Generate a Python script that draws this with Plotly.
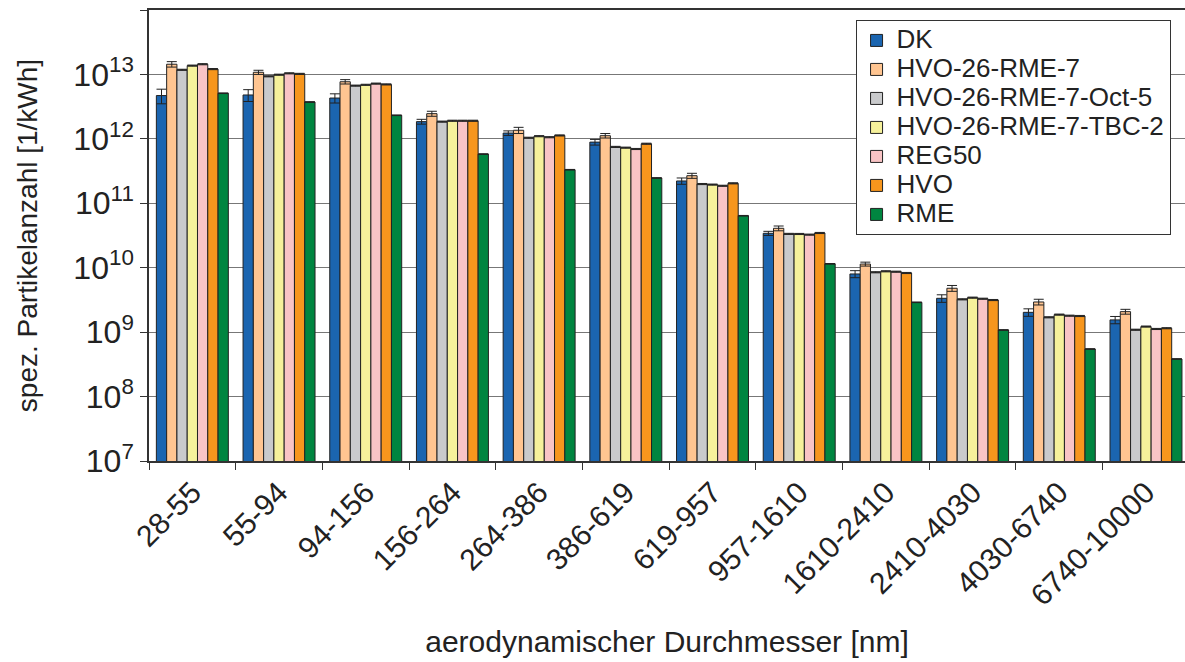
import plotly.graph_objs as go

categories = ['28-55', '55-94', '94-156', '156-264', '264-386', '386-619',
              '619-957', '957-1610', '1610-2410', '2410-4030', '4030-6740', '6740-10000']

series_names = ['DK', 'HVO-26-RME-7', 'HVO-26-RME-7-Oct-5', 'HVO-26-RME-7-TBC-2',
                'REG50', 'HVO', 'RME']

dk = [4.7e12, 4.8e12, 4.3e12, 1.85e12, 1.23e12, 8.9e11, 2.22e11, 3.42e10, 8.0e9, 3.35e9, 2.03e9, 1.55e9]
dk_err = [1.2e12, 1.0e12, 0.7e12, 0.16e12, 0.1e12, 0.09e12, 0.25e11, 0.25e10, 1.0e9, 0.45e9, 0.27e9, 0.2e9]

hvo26 = [1.44e13, 1.08e13, 7.7e12, 2.46e12, 1.36e12, 1.12e12, 2.68e11, 4.09e10, 1.14e10, 4.8e9, 2.94e9, 2.08e9]
hvo26_err = [0.14e13, 0.08e13, 0.6e12, 0.22e12, 0.15e12, 0.09e12, 0.24e11, 0.35e10, 0.08e10, 0.5e9, 0.3e9, 0.18e9]

oct5 = [1.18e13, 9.35e12, 6.7e12, 1.85e12, 1.04e12, 7.5e11, 1.99e11, 3.35e10, 8.5e9, 3.23e9, 1.7e9, 1.09e9]
tbc2 = [1.37e13, 9.9e12, 6.9e12, 1.91e12, 1.10e12, 7.3e11, 1.95e11, 3.34e10, 8.8e9, 3.43e9, 1.87e9, 1.22e9]
reg50 = [1.44e13, 1.04e13, 7.2e12, 1.91e12, 1.06e12, 6.96e11, 1.87e11, 3.26e10, 8.67e9, 3.3e9, 1.8e9, 1.12e9]
hvo = [1.21e13, 1.02e13, 7.0e12, 1.91e12, 1.13e12, 8.4e11, 2.04e11, 3.46e10, 8.28e9, 3.15e9, 1.78e9, 1.15e9]
rme = [5.1e12, 3.73e12, 2.32e12, 5.8e11, 3.32e11, 2.47e11, 6.41e10, 1.15e10, 2.9e9, 1.08e9, 5.47e8, 3.83e8]

colors = ['#1b65b0', '#ffc591', '#c9cacc', '#f6f19b', '#f9c4c5', '#f7961d', '#008540']

values = [dk, hvo26, oct5, tbc2, reg50, hvo, rme]
errors = [dk_err, hvo26_err,
          [v * 0.02 for v in oct5], [v * 0.02 for v in tbc2], [v * 0.02 for v in reg50],
          [v * 0.02 for v in hvo], [v * 0.01 for v in rme]]

font = 'Liberation Sans, Arial, sans-serif'

fig = go.Figure()
for name, vals, err, col in zip(series_names, values, errors, colors):
    fig.add_trace(go.Bar(
        x=categories, y=vals,
        # legend rows stay tight (size 20) while the text is drawn larger
        name='<span style="font-size:26px">' + name + '</span>',
        marker=dict(color=col, line=dict(color='#222222', width=1)),
        error_y=dict(type='data', array=err, visible=True, color='#222222', thickness=1, width=5),
    ))

ytick_vals = [1e7, 1e8, 1e9, 1e10, 1e11, 1e12, 1e13, 1e14]
ytick_text = ['10<sup>7</sup>', '10<sup>8</sup>', '10<sup>9</sup>', '10<sup>10</sup>',
              '10<sup>11</sup>', '10<sup>12</sup>', '10<sup>13</sup>', '']

fig.update_layout(
    width=1185, height=662,
    margin=dict(l=149, r=0, t=10, b=201),
    paper_bgcolor='white', plot_bgcolor='white',
    barmode='group', bargap=0.17, bargroupgap=0,
    font=dict(family=font, size=22, color='#222222'),
    showlegend=True,
    legend=dict(x=0.682, y=0.978, xanchor='left', yanchor='top',
                bordercolor='#333333', borderwidth=1, bgcolor='white',
                font=dict(size=20), tracegroupgap=0),
)
fig.update_xaxes(
    type='category', range=[-0.5, 11.45],
    tickangle=-45, ticks='outside', tickson='boundaries', ticklen=7,
    tickcolor='#333333', showline=True, linecolor='#333333', linewidth=1.5, mirror=True,
    showgrid=False,
    title=dict(text='aerodynamischer Durchmesser [nm]', standoff=20, font=dict(size=30)),
    tickfont=dict(size=30),
)
fig.update_yaxes(
    type='log', range=[7, 14],
    tickvals=ytick_vals, ticktext=ytick_text,
    ticks='outside', ticklen=7, tickcolor='#333333',
    showline=True, linecolor='#333333', linewidth=1.5,
    showgrid=True, gridcolor='#777777', gridwidth=1.2,
    title=dict(text='spez. Partikelanzahl [1/kWh]', standoff=28, font=dict(size=28)),
    tickfont=dict(size=32),
)

fig.write_html("out.html", config={'displayModeBar': False},
               post_script="document.body.style.margin='0';document.body.style.overflow='hidden';")
